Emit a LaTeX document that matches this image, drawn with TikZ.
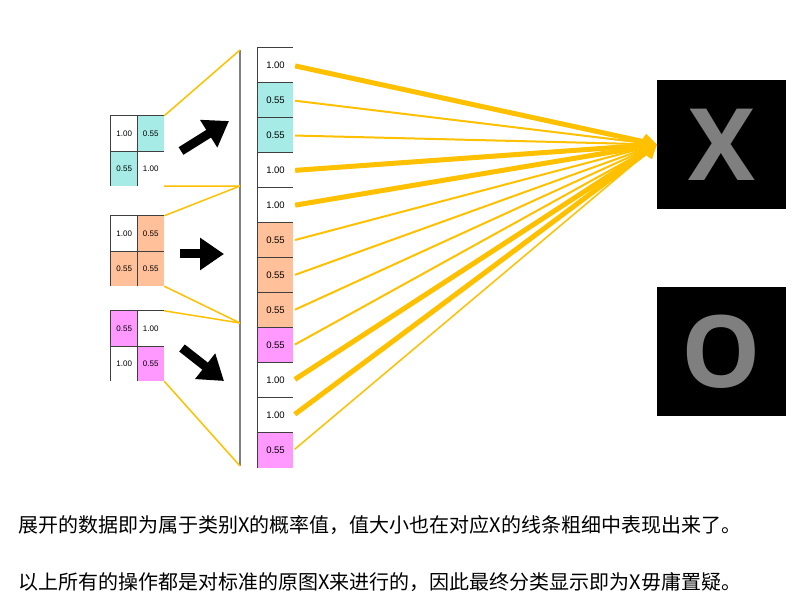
\documentclass[tikz,border=0pt]{standalone}
\usepackage{fontspec}
\setmainfont{Liberation Sans}
\newfontfamily\cjk{Noto Sans CJK SC}
\newfontfamily\boxfont{Open Sans}
\usepackage{xcolor}
\usetikzlibrary{arrows.meta}

\definecolor{cellcyan}{HTML}{A6EBE6}
\definecolor{cellorange}{HTML}{FFC09A}
\definecolor{cellpink}{HTML}{FF99FF}
\definecolor{fanyellow}{HTML}{FFC000}
\definecolor{glyphgray}{HTML}{7F7F7F}
\definecolor{gridgray}{HTML}{3F3F3F}

\tikzset{
    cell/.style={minimum width=26.5pt, minimum height=35pt, inner sep=0pt, font=\fontsize{8}{9}\selectfont},
    colcell/.style={minimum width=35pt, minimum height=35pt, inner sep=0pt, font=\fontsize{9.5}{10}\selectfont},
    gridline/.style={draw=gridgray, line width=0.8pt},
    guide/.style={draw=fanyellow, line width=1.5pt},
    fan/.style={draw=fanyellow, -{Triangle[length=13pt,width=16pt]}},
    bigarrow/.style={draw=black, line width=9pt, -{Triangle[length=24pt,width=31pt]}},
    letterbox/.style={fill=black, text=glyphgray, minimum size=129pt, inner sep=0pt, font=\boxfont\bfseries\fontsize{100}{100}\selectfont},
    caption/.style={anchor=west, inner sep=0pt, font=\cjk\fontsize{20}{21}\selectfont}
}

\begin{document}
\begin{tikzpicture}[x=1pt,y=-1pt]
    \useasboundingbox (0,0) rectangle (807,604);

    % small grids
    \foreach \g/\top/\a/\b/\c/\d/\ca/\cb/\cc/\cd in {
        1/116/1.00/0.55/0.55/1.00/white/cellcyan/cellcyan/white,
        2/216/1.00/0.55/0.55/0.55/white/cellorange/cellorange/cellorange,
        3/311/0.55/1.00/1.00/0.55/cellpink/white/white/cellpink}{
        \node[cell,fill=\ca] (g\g a) at (124.25,\top+17.5) {\a};
        \node[cell,fill=\cb] (g\g b) at (150.75,\top+17.5) {\b};
        \node[cell,fill=\cc] (g\g c) at (124.25,\top+52.5) {\c};
        \node[cell,fill=\cd] (g\g d) at (150.75,\top+52.5) {\d};
        \draw[gridline] (g\g c.south west) -- (g\g a.north west) -- (g\g b.north east);
        \draw[gridline] (g\g a.south west) -- (g\g b.south east);
        \draw[gridline] (g\g a.north east) -- (g\g c.south east);
    }

    % split line
    \coordinate (s0) at (240,50);
    \coordinate (s1) at (240,186);
    \coordinate (s2) at (240,323);
    \coordinate (s3) at (240,466);
    \draw[gray, line width=1.5pt] (s0) -- (s3);

    \draw[guide] (g1b.north east) -- (s0);
    \draw[guide] (g1d.south east) -- (s1);
    \draw[guide] (g2b.north east) -- (s1);
    \draw[guide] (g2d.south east) -- (s2);
    \draw[guide] (g3b.north east) -- (s2);
    \draw[guide] (g3d.south east) -- (s3);

    % black arrows
    \draw[bigarrow] (181,151) -- (229,121);
    \draw[bigarrow] (180,254) -- (224,254);
    \draw[bigarrow] (182,348) -- (224,381);

    % flattened column
    \foreach \v/\c [count=\i] in {1.00/white, 0.55/cellcyan, 0.55/cellcyan, 1.00/white,
        1.00/white, 0.55/cellorange, 0.55/cellorange, 0.55/cellorange,
        0.55/cellpink, 1.00/white, 1.00/white, 0.55/cellpink}{
        \node[colcell,fill=\c] (v\i) at (275.5,30.5+35*\i) {\v};
        \draw[gridline] (v\i.south west) -- (v\i.north west) -- (v\i.north east);
    }

    % X and O
    \node[letterbox] (xbox) at (721.5,144.5) {X};
    \node[letterbox] (obox) at (721.5,351.5) {O};

    % weighted lines
    \foreach \i/\w in {1/5pt, 2/2pt, 3/2pt, 4/5pt, 5/5pt, 6/2pt,
        7/2pt, 8/2pt, 9/2pt, 10/5pt, 11/5pt, 12/1.5pt}{
        \draw[fan, line width=\w, shorten <=2pt] (v\i.east) -- (xbox.west);
    }

    % text
    \node[caption] (line1) at (18,525) {展开的数据即为属于类别X的概率值，值大小也在对应X的线条粗细中表现出来了。};
    \node[caption] (line2) at (18,582) {以上所有的操作都是对标准的原图X来进行的，因此最终分类显示即为X毋庸置疑。};
\end{tikzpicture}
\end{document}
